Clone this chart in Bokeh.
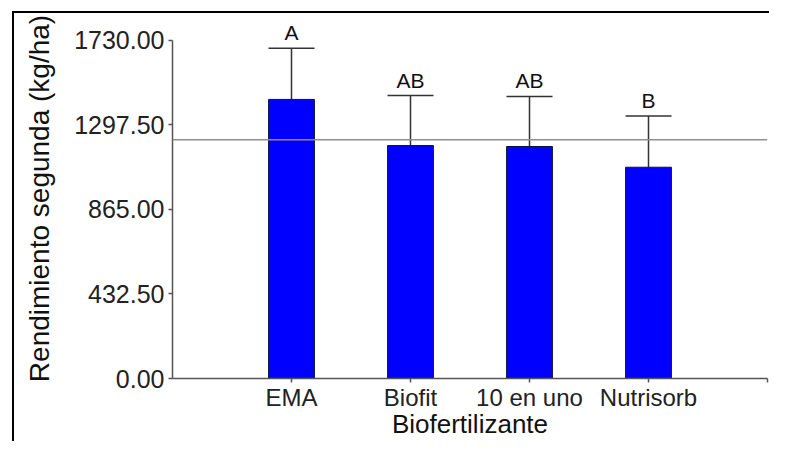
from bokeh.plotting import figure
from bokeh.models import FixedTicker, Span, Whisker, ColumnDataSource, Range1d, TeeHead, NumeralTickFormatter
from bokeh.core.properties import value
from bokeh.embed import file_html
from bokeh.resources import INLINE

# Data
categories = ["EMA", "Biofit", "10 en uno", "Nutrisorb"]
means = [1428, 1192, 1187, 1081]
upper_err = [1690, 1448, 1443, 1343]
letters = ["A", "AB", "AB", "B"]
overall_mean = 1222
y_ticks = [0, 432.5, 865, 1297.5, 1730]

FONT = "Liberation Sans"
xpos = list(range(1, len(categories) + 1))

src = ColumnDataSource(dict(x=xpos, mean=means, up=upper_err, lab=letters))

p = figure(width=769, height=441, output_backend="svg", toolbar_location=None,
           x_range=Range1d(0, len(categories) + 1), y_range=Range1d(0, 1842),
           min_border_left=172, min_border_right=2, min_border_top=18, min_border_bottom=62)

p.outline_line_color = None
p.xgrid.visible = False
p.ygrid.visible = False
p.background_fill_color = "white"
p.border_fill_color = None

# page frame (left and top lines) painted behind the transparent border area
p.styles = {
    "background-color": "white",
    "background-image": "linear-gradient(#000,#000), linear-gradient(#000,#000)",
    "background-size": "2px 440px, 773px 2px",
    "background-position": "12px 11px, 12px 11px",
    "background-repeat": "no-repeat",
}

p.add_layout(Span(location=overall_mean, dimension="width", line_color="#8f8f8f", line_width=1.5))

p.vbar(x="x", top="mean", bottom=0, width=0.385, source=src,
       fill_color="#0000FF", line_color="#101040", line_width=1)

w = Whisker(source=src, base="x", lower="mean", upper="up",
            line_color="#333333", line_width=1.5,
            upper_head=TeeHead(size=46, line_color="#333333", line_width=1.5),
            lower_head=None)
p.add_layout(w)

p.text(x="x", y="up", text="lab", source=src, text_align="center", text_baseline="bottom",
       y_offset=-4, text_font=value(FONT), text_font_size="21px", text_color="#111111")

# Axes
p.yaxis.ticker = FixedTicker(ticks=y_ticks)
p.yaxis.formatter = NumeralTickFormatter(format="0.00")
p.yaxis.bounds = (0, 1730)
p.yaxis.axis_label = "Rendimiento segunda (kg/ha)"
p.xaxis.axis_label = "Biofertilizante"
p.xaxis.ticker = FixedTicker(ticks=xpos + [len(categories) + 1])
p.xaxis.major_label_overrides = {**{i: c for i, c in zip(xpos, categories)}, len(categories) + 1: ""}

for ax in (p.xaxis[0], p.yaxis[0]):
    ax.axis_line_color = "#555555"
    ax.axis_line_width = 1.5
    ax.major_tick_line_color = "#555555"
    ax.major_tick_line_width = 1.5
    ax.major_tick_out = 4
    ax.major_tick_in = 0
    ax.minor_tick_line_color = None
    ax.major_label_text_font = FONT
    ax.major_label_text_color = "#222222"
    ax.axis_label_text_font = FONT
    ax.axis_label_text_font_style = "normal"
    ax.axis_label_text_color = "#111111"

p.yaxis.major_label_text_font_size = "25px"
p.xaxis.major_label_text_font_size = "24px"
p.yaxis.axis_label_text_font_size = "28px"
p.xaxis.axis_label_text_font_size = "26px"
p.yaxis.major_label_standoff = 4
p.yaxis.axis_label_standoff = 16
p.xaxis.major_label_standoff = 1
p.xaxis.axis_label_standoff = -5

open("out.html", "w").write(file_html(p, INLINE))
